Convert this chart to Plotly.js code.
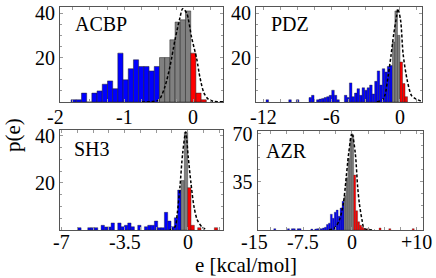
<!DOCTYPE html>
<html><head><meta charset="utf-8">
<script src="https://cdn.plot.ly/plotly-3.0.1.min.js"></script>
<style>html,body{margin:0;padding:0;background:#fff}</style>
</head><body><div id="chart" style="width:436px;height:278px"></div>
<script>
// ---------- ACBP ----------
const acbpE = [-1.734,-1.659,-1.583,-1.508,-1.433,-1.357,-1.282,-1.206,-1.131,-1.056,-0.980,-0.905,-0.830,-0.754,-0.679,-0.603,-0.528,-0.452,-0.377,-0.302,-0.226,-0.151,-0.075,0.000,0.076,0.151];
const acbpP = [1,1,4,0,4,5,8,9.5,6,22,10,15,19,16,16,14,16,20,20,28,36,37,41,22,4,1];
const acbpBinW = 0.0754;
const acbpCuts = [-0.49, -0.038];
const acbpFitE = [-0.75,-0.6,-0.497,-0.41,-0.338,-0.265,-0.193,-0.154,-0.096,-0.024,0.049,0.097,0.155,0.217,0.29,0.43];
const acbpFitP = [0,0.2,1,7,16,28,38,42,40,29,19.5,11,4,1.3,0.3,0.1];
const acbpXTicks = [-2,-1,0];
const acbpXTickText = ['-2','-1','0'];
const acbpYTicks = [20,40];

// ---------- PDZ ----------
const pdzE = [-11.668,-9.661,-8.992,-7.877,-7.654,-7.208,-6.985,-6.762,-6.539,-6.316,-6.093,-5.870,-5.647,-5.424,-4.755,-4.532,-4.309,-4.086,-3.863,-3.640,-3.417,-3.194,-2.971,-2.748,-2.525,-2.302,-2.079,-1.856,-1.633,-1.410,-1.187,-0.964,-0.741,-0.518,-0.295,-0.072,0.151,0.374,0.597];
const pdzP = [1,1,1,2,3,1,1.3,1.6,2,2.4,3,5.3,3,1,3,2,8.6,2.4,4,6,3,6.4,5.3,6.4,7.6,3.6,9.3,14,7.6,15,13.5,16,16.4,27,41,30,18,8.3,2.4];
const pdzBinW = 0.223;
const pdzCuts = [-0.63, 0.04];
const pdzFitE = [-2.0,-1.5,-1.29,-1.0,-0.75,-0.5,-0.26,-0.15,0.09,0.32,0.67,1.05,1.4,1.94];
const pdzFitP = [0,1,3,11.8,21,31,38.5,42,37,21.5,10,3,1.5,0.3];
const pdzXTicks = [-12,-6,0];
const pdzXTickText = ['-12','-6','0'];
const pdzYTicks = [20,40];

// ---------- SH3 ----------
const sh3E = [-6.013,-5.458,-5.273,-5.088,-4.718,-4.533,-4.348,-4.163,-3.793,-3.608,-3.423,-3.238,-3.053,-2.683,-2.313,-2.128,-1.943,-1.758,-1.573,-1.388,-1.203,-1.018,-0.833,-0.648,-0.463,-0.278,-0.093,0.093,0.278,0.648,1.573];
const sh3P = [1,1,1,1,2,1.3,1.3,3,3,1.4,2,3,1.4,2,1.4,2,2,3.8,1,1,7.5,3.8,1.4,5.2,17,21,41.6,18,2,1,1];
const sh3BinW = 0.185;
const sh3Cuts = [-0.37, 0];
const sh3FitE = [-1.0,-0.7,-0.58,-0.43,-0.28,-0.11,0.03,0.18,0.35,0.53,0.78,1.0];
const sh3FitP = [0,1.4,7,18.4,32.6,41.6,31,20,9.9,4.3,1.4,0.2];
const sh3XTicks = [-7,-3.5,0];
const sh3XTickText = ['-7','-3.5','0'];
const sh3YTicks = [20,40];

// ---------- AZR ----------
const azrE = [-11.85,-9.75,-9.15,-8.85,-8.25,-7.95,-6.15,-5.55,-5.25,-4.95,-4.65,-4.35,-4.05,-3.75,-3.45,-3.15,-2.85,-2.55,-2.25,-1.95,-1.65,-1.35,-1.05,-0.75,-0.45,-0.15,0.15,0.45,0.75,1.05,1.35,1.65,1.95,2.55,4.35,5.85,9.45];
const azrP = [1,1,1,1,1,1,0.7,0.7,1,1,1,1.5,2,4,5,11.5,8.5,13,14.5,10,16,21,25,38,52,66.7,69,40,14,6,3.5,2,1,1,1.5,1,1];
const azrBinW = 0.3;
const azrCuts = [-1.2, 0.3];
const azrFitE = [-3.5,-2.7,-1.9,-1.3,-1.0,-0.48,0.03,0.54,0.9,1.16,1.57,1.9,2.7,3.5];
const azrFitP = [0,1.2,7.3,19.4,31.5,55.8,70.5,55.8,31.5,19.4,7.3,1.2,0.2,0];
const azrXTicks = [-15,-7.5,0,10];
const azrXTickText = ['-15','-7.5','0','+10'];
const azrYTicks = [35,70];

const panelNames = ['ACBP','PDZ','SH3','AZR'];

// ---------- build ----------
const W = 436, H = 278;
const FONT = 'Liberation Serif, Times New Roman, serif';
const BLUE = '#0000ff', GRAY = '#808080', RED = '#ff0000';

const panels = [
  {E:acbpE,P:acbpP,w:acbpBinW,cuts:acbpCuts,fe:acbpFitE,fp:acbpFitP,xt:acbpXTicks,xtt:acbpXTickText,yt:acbpYTicks,
   xr:[-1.932,0.435], yr:[0,43], xd:[60,223.3], yd:[6.5,102], dt:0.25, ydt:5, lab:[73,24], tly:117, lw:0.5},
  {E:pdzE,P:pdzP,w:pdzBinW,cuts:pdzCuts,fe:pdzFitE,fp:pdzFitP,xt:pdzXTicks,xtt:pdzXTickText,yt:pdzYTicks,
   xr:[-12.665,1.94], yr:[0,43], xd:[256,421.5], yd:[6.5,102], dt:1.5, ydt:5, lab:[269,24], tly:117, lw:0.4},
  {E:sh3E,P:sh3P,w:sh3BinW,cuts:sh3Cuts,fe:sh3FitE,fp:sh3FitP,xt:sh3XTicks,xtt:sh3XTickText,yt:sh3YTicks,
   xr:[-7.094,1.978], yr:[0,42.5], xd:[60,223.3], yd:[130,230], dt:0.875, ydt:5, lab:[72,149], tly:242, lw:0.4},
  {E:azrE,P:azrP,w:azrBinW,cuts:azrCuts,fe:azrFitE,fp:azrFitP,xt:azrXTicks,xtt:azrXTickText,yt:azrYTicks,
   xr:[-14.51,10.88], yr:[0,72], xd:[257.5,422.5], yd:[131,230], dt:2.5, ydt:8.75, lab:[264,150.5], tly:242, lw:0.3}
];

const traces = [];
const layout = {
  width: W, height: H, margin:{l:0,r:0,t:0,b:0},
  paper_bgcolor:'#fff', plot_bgcolor:'#fff', showlegend:false,
  font:{family:FONT, size:20, color:'#000'},
  bargap:0, barmode:'overlay',
  annotations: []
};

panels.forEach((p, i) => {
  const n = i + 1;
  const xa = n === 1 ? 'x' : 'x' + n;
  const ya = n === 1 ? 'y' : 'y' + n;
  const colors = p.E.map(e => e < p.cuts[0] ? BLUE : (e < p.cuts[1] ? GRAY : RED));
  traces.push({
    type:'bar', x:p.E, y:p.P, width:p.w, xaxis:xa, yaxis:ya,
    marker:{color:colors, line:{color:'#222', width:p.lw}},
    hoverinfo:'skip'
  });
  traces.push({
    type:'scatter', mode:'lines', x:p.fe, y:p.fp, xaxis:xa, yaxis:ya,
    line:{color:'#000', width:1.5, dash:'3px,2px', shape:'spline', smoothing:0.8},
    hoverinfo:'skip'
  });
  const axCommon = {showline:true, linecolor:'#555', linewidth:1, mirror:'allticks',
    showgrid:false, zeroline:false, ticks:'inside', ticklen:3, tickcolor:'#999', tickwidth:1, fixedrange:true};
  layout['xaxis' + (n === 1 ? '' : n)] = Object.assign({}, axCommon, {
    domain:[p.xd[0]/W, p.xd[1]/W], anchor:ya, range:p.xr,
    tickmode:'linear', tick0:0, dtick:p.dt, showticklabels:false
  });
  layout['yaxis' + (n === 1 ? '' : n)] = Object.assign({}, axCommon, {
    domain:[1 - p.yd[1]/H, 1 - p.yd[0]/H], anchor:xa, range:p.yr,
    tickmode:'array', tickvals:p.yt, ticktext:p.yt.map(String),
    tickfont:{family:FONT, size:20, color:'#000'},
    minor:{ticks:'inside', dtick:p.ydt, ticklen:2, tickcolor:'#999'}
  });
  // x tick labels: placed at the axis position of their value (some sit just outside the frame)
  p.xt.forEach((v, j) => {
    const frac = (v - p.xr[0]) / (p.xr[1] - p.xr[0]);
    const px = p.xd[0] + frac * (p.xd[1] - p.xd[0]);
    layout.annotations.push({
      xref:'paper', yref:'paper', x:px / W, y:1 - p.tly/H, yanchor:'middle', xanchor:'center',
      text:p.xtt[j], showarrow:false, font:{family:FONT, size:20, color:'#000'}
    });
  });
  // panel name
  layout.annotations.push({
    xref:'paper', yref:'paper', x:p.lab[0]/W, y:1 - p.lab[1]/H, xanchor:'left', yanchor:'middle',
    text:panelNames[i], showarrow:false, font:{family:FONT, size:20, color:'#000'}
  });
});

layout.annotations.push({
  xref:'paper', yref:'paper', x:13/W, y:1 - 135/H, xanchor:'center', yanchor:'middle',
  text:'p(e)', textangle:-90, showarrow:false, font:{family:FONT, size:21, color:'#000'}
});
layout.annotations.push({
  xref:'paper', yref:'paper', x:246/W, y:1 - 265/H, xanchor:'center', yanchor:'middle',
  text:'e [kcal/mol]', showarrow:false, font:{family:FONT, size:21, color:'#000'}
});

Plotly.newPlot('chart', traces, layout, {staticPlot:true, displayModeBar:false});
</script>
</body></html>
